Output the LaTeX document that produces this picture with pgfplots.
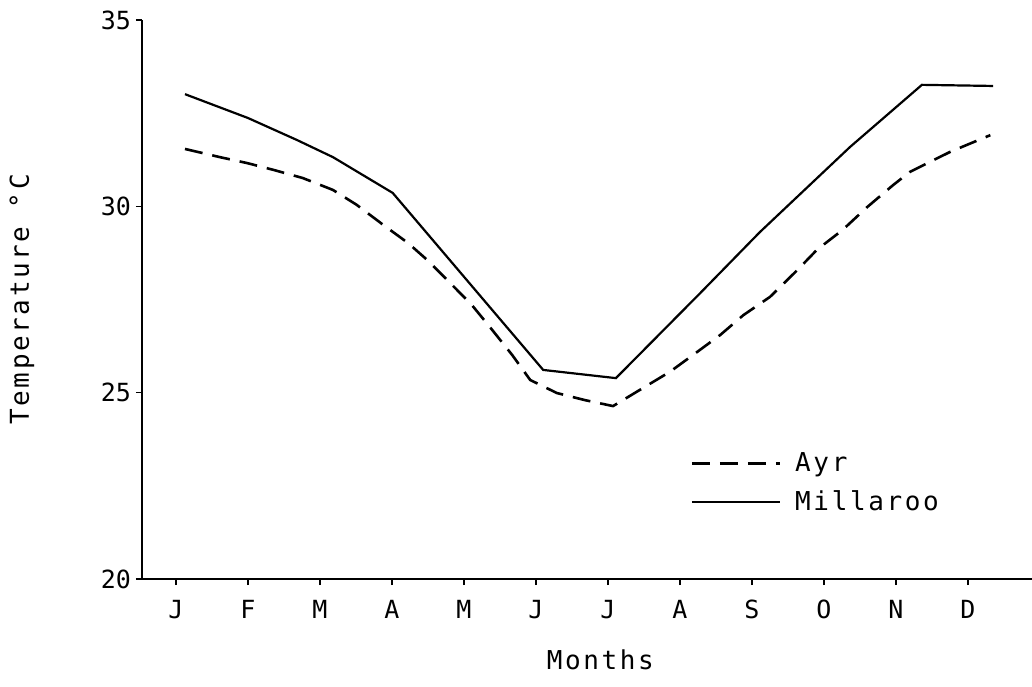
\documentclass[border=0pt]{standalone}
\usepackage{fontspec}
\setmainfont{DejaVu Sans Mono}
\newfontfamily\spaced[LetterSpace=10]{DejaVu Sans Mono}
\usepackage{pgfplots}
\pgfplotsset{compat=1.18}

\begin{document}
\begin{tikzpicture}
\useasboundingbox (-71pt,-53.5pt) rectangle (445pt,289.5pt);
\begin{axis}[
  scale only axis, width=445pt, height=279.5pt,
  at={(0,0)}, anchor=south west,
  xmin=-0.472, xmax=11.889, ymin=20, ymax=35,
  axis x line=bottom, axis y line=left,
  axis line style={-, line width=0.9pt},
  xtick={0,1,2,3,4,5,6,7,8,9,10,11},
  xticklabels={J,F,M,A,M,J,J,A,S,O,N,D},
  ytick={20,25,30,35},
  tick align=outside, major tick length=3pt,
  tick style={black, line width=0.8pt},
  /pgf/number format/assume math mode=true,
  ticklabel style={font=\fontsize{12.5}{14}\selectfont},
  xticklabel style={yshift=-4pt},
  yticklabel style={xshift=1pt},
  xlabel={\spaced Months},
  ylabel={\spaced Temperature °C},
  label style={font=\fontsize{13}{15}\selectfont},
  xlabel style={at={(axis description cs:0.515,-0.145)}, anchor=center},
  ylabel style={at={(axis description cs:-0.135,0.5)}, anchor=center},
  legend style={draw=none, fill=none, at={(0.616,0.234)}, anchor=north west,
    inner sep=0pt, row sep=4pt, column sep=5pt, font=\spaced\fontsize{13}{15}\selectfont,
    cells={anchor=west}},
  legend image code/.code={\draw[#1] (0pt,0pt) -- (44pt,0pt);},
]
\addplot[black, line width=1.3pt, dash pattern=on 9pt off 5pt] coordinates {
 (0.125,31.54) (0.61,31.32) (0.99,31.16) (1.35,30.98) (1.76,30.76)
 (2.18,30.44) (2.51,30.04) (2.88,29.50) (3.22,29.02) (3.49,28.56)
 (3.81,27.94) (4.11,27.35) (4.36,26.76) (4.67,26.01) (4.92,25.34)
 (5.29,24.99) (5.68,24.80) (6.07,24.64) (6.49,25.13) (6.86,25.56)
 (7.18,26.01) (7.56,26.55) (7.88,27.08) (8.25,27.57) (8.63,28.29)
 (8.90,28.83) (9.26,29.37) (9.60,29.98) (9.96,30.57) (10.19,30.92)
 (10.75,31.46) (11.31,31.91)
};
\addlegendentry{Ayr}
\addplot[black, line width=1.1pt] coordinates {
 (0.125,33.01) (1.0,32.37) (1.68,31.78) (2.18,31.32) (3.01,30.36)
 (5.10,25.61) (6.11,25.39) (7.28,27.67) (8.11,29.31) (9.36,31.59)
 (10.36,33.26) (11.35,33.23)
};
\addlegendentry{Millaroo}
\end{axis}
\end{tikzpicture}
\end{document}
